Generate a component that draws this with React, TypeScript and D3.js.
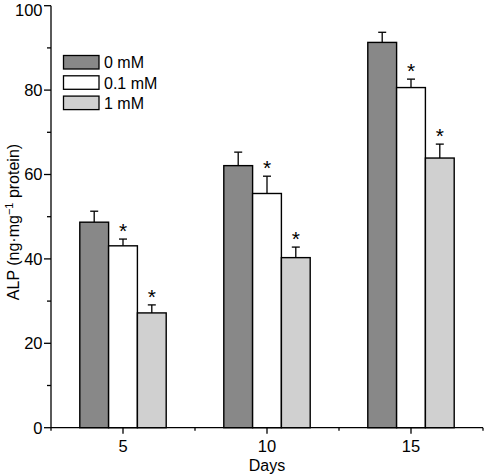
import React from "react";
import * as d3 from "d3";

const days = [5, 10, 15];
const seriesNames = ["0 mM", "0.1 mM", "1 mM"];
const seriesColors = ["#888888", "#ffffff", "#d0d0d0"];
const values0 = [48.7, 62.1, 91.3];
const values01 = [43.1, 55.5, 80.6];
const values1 = [27.2, 40.3, 63.9];
const err0 = [2.6, 3.2, 2.4];
const err01 = [1.6, 4.1, 2.0];
const err1 = [1.9, 2.5, 3.3];
const sig0 = [false, false, false];
const sig01 = [true, true, true];
const sig1 = [true, true, true];
const yTicks = [0, 20, 40, 60, 80, 100];
const yMinor = [10, 30, 50, 70, 90];
const xMinor = [2.5, 7.5, 12.5, 17.5];

const W = 484;
const H = 475;
const x = d3.scaleLinear().domain([2.5, 17.5]).range([51, 483]);
const y = d3.scaleLinear().domain([0, 100]).range([427.7, 5.7]);
const font = "Arial, 'Liberation Sans', sans-serif";

export default function App() {
  const series = [
    { vals: values0, errs: err0, sig: sig0, off: -1 },
    { vals: values01, errs: err01, sig: sig01, off: 0 },
    { vals: values1, errs: err1, sig: sig1, off: 1 },
  ];
  const bw = x(1) - x(0);
  return (
    <svg width={W} height={H} style={{ position: "absolute", left: 0, top: 0 }} fontFamily={font}>
      <rect width={W} height={H} fill="#fff" />
      {series.map((s, si) =>
        days.map((d, i) => {
          const cx = x(d + s.off);
          const top = y(s.vals[i]);
          const et = y(s.vals[i] + s.errs[i]);
          return (
            <g key={`${si}-${i}`}>
              <line x1={cx} x2={cx} y1={top} y2={et} stroke="#000" strokeWidth={1.3} />
              <line x1={cx - 4} x2={cx + 4} y1={et} y2={et} stroke="#000" strokeWidth={1.3} />
              <rect x={cx - bw / 2} y={top} width={bw} height={y(0) - top} fill={seriesColors[si]} stroke="#000" strokeWidth={1.4} />
              {s.sig[i] && (
                <text x={cx} y={et - 1} textAnchor="middle" fontSize={21} fill="#000">*</text>
              )}
            </g>
          );
        })
      )}
      {/* y axis */}
      <line x1={51} x2={51} y1={y(100)} y2={y(0)} stroke="#000" strokeWidth={1.3} />
      {yTicks.map((t) => (
        <g key={t}>
          <line x1={44} x2={51} y1={y(t)} y2={y(t)} stroke="#000" strokeWidth={1.3} />
          <text x={42.5} y={Math.max(y(t) + 5.8, 15.5)} textAnchor="end" fontSize={16.5}>{t}</text>
        </g>
      ))}
      {yMinor.map((t) => (
        <line key={t} x1={47} x2={51} y1={y(t)} y2={y(t)} stroke="#000" strokeWidth={1.3} />
      ))}
      {/* x axis */}
      <line x1={51} x2={483} y1={y(0)} y2={y(0)} stroke="#000" strokeWidth={1.3} />
      {days.map((d) => (
        <g key={d}>
          <line x1={x(d)} x2={x(d)} y1={y(0)} y2={y(0) + 6} stroke="#000" strokeWidth={1.3} />
          <text x={x(d)} y={451.7} textAnchor="middle" fontSize={16.5}>{d}</text>
        </g>
      ))}
      {xMinor.map((d) => (
        <line key={d} x1={x(d)} x2={x(d)} y1={y(0)} y2={y(0) + 3} stroke="#000" strokeWidth={1.3} />
      ))}
      <text x={267} y={470.5} textAnchor="middle" fontSize={16}>Days</text>
      <text transform="translate(19,222) rotate(-90)" textAnchor="middle" fontSize={16}>
        ALP (ng·mg<tspan dy="-6" fontSize={11}>−1</tspan><tspan dy="6"> protein)</tspan>
      </text>
      {/* legend */}
      {seriesNames.map((n, i) => (
        <g key={n}>
          <rect x={63.5} y={55.5 + i * 20.3} width={35.5} height={13.5} fill={seriesColors[i]} stroke="#000" strokeWidth={1.3} />
          <text x={104} y={62.5 + i * 20.3} dy="0.36em" fontSize={16}>{n}</text>
        </g>
      ))}
    </svg>
  );
}
